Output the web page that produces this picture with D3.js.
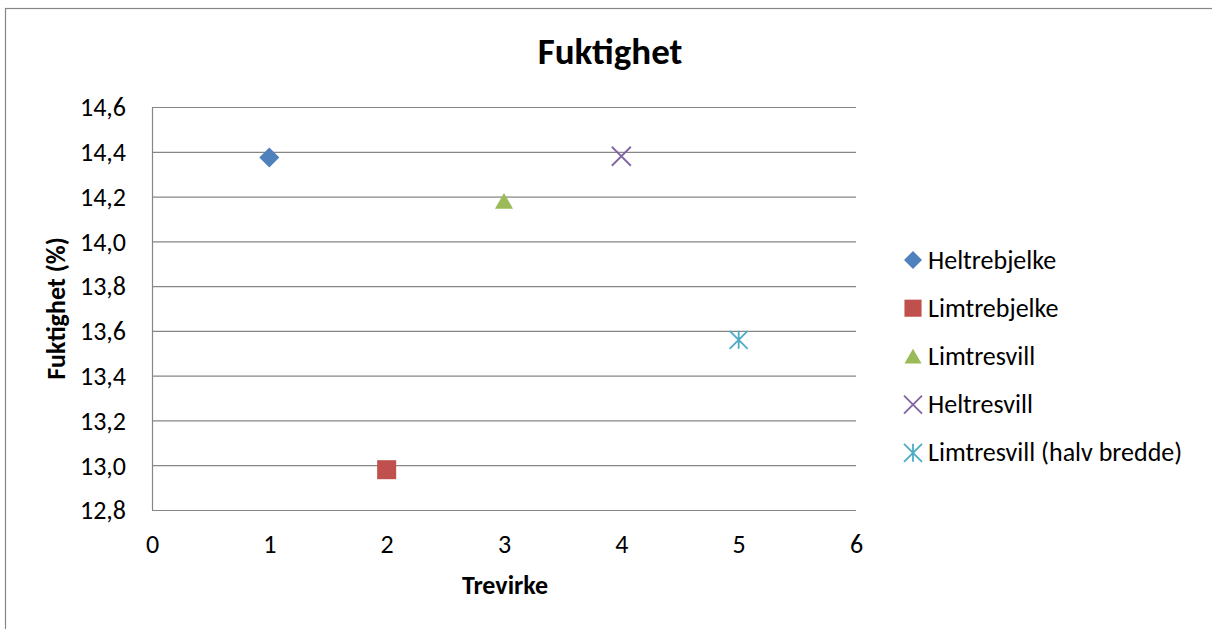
<!DOCTYPE html>
<html>
<head>
<meta charset="utf-8">
<script src="https://cdn.jsdelivr.net/npm/d3@7"></script>
<style>
  html, body { margin: 0; padding: 0; background: #fff; }
  svg text { font-family: Carlito, Calibri, Lato, sans-serif; fill: #000; }
</style>
</head>
<body>
<svg id="chart" width="1212" height="629"></svg>
<script>
// Moisture content per timber type
const seriesNames = ["Heltrebjelke", "Limtrebjelke", "Limtresvill", "Heltresvill", "Limtresvill (halv bredde)"];
const xValues = [1, 2, 3, 4, 5];
const yValues = [14.375, 12.98, 14.18, 14.38, 13.56];
const colors = ["#4F81BD", "#C0504D", "#9BBB59", "#8064A2", "#4BACC6"];
const markerKinds = ["diamond", "square", "triangle", "x", "star"];
const xTicks = [0, 1, 2, 3, 4, 5, 6];
const yTicks = [12.8, 13.0, 13.2, 13.4, 13.6, 13.8, 14.0, 14.2, 14.4, 14.6];

const svg = d3.select("#chart");
const plot = { left: 152, right: 856, top: 107, bottom: 510 };

const x = d3.scaleLinear().domain([0, 6]).range([plot.left, plot.right]);
const y = d3.scaleLinear().domain([12.8, 14.6]).range([plot.bottom, plot.top]);
const fmt = v => d3.format(".1f")(v).replace(".", ",");

// chart frame
svg.append("rect")
  .attr("x", 5.5).attr("y", 8.5)
  .attr("width", 1240).attr("height", 700)
  .attr("fill", "none").attr("stroke", "#868686").attr("stroke-width", 1.2);

// title
svg.append("text")
  .attr("x", 610).attr("y", 64)
  .attr("text-anchor", "middle")
  .style("font-size", "37px").style("font-weight", "bold")
  .text("Fuktighet");

// horizontal gridlines via y axis
const yAxis = d3.axisLeft(y).tickValues(yTicks).tickSize(-(plot.right - plot.left)).tickFormat(fmt).tickPadding(26);
const gy = svg.append("g").attr("transform", `translate(${plot.left},0)`).call(yAxis);
gy.select(".domain").attr("stroke", "#868686").attr("stroke-width", 1.2)
  .attr("d", `M0.5,${plot.top}V${plot.bottom}`);
gy.selectAll(".tick line").attr("stroke", "#868686").attr("stroke-width", 1.2);
gy.selectAll(".tick text").style("font-size", "26px").attr("dy", "0.34em");

// x axis labels
const xAxis = d3.axisBottom(x).tickValues(xTicks).tickSize(0).tickPadding(0).tickFormat(d3.format("d"));
const gx = svg.append("g").attr("transform", `translate(0,${plot.bottom})`).call(xAxis);
gx.select(".domain").remove();
gx.selectAll(".tick text").style("font-size", "26px").attr("y", 43).attr("dy", null);

// axis titles
svg.append("text")
  .attr("x", 505).attr("y", 594)
  .attr("text-anchor", "middle")
  .style("font-size", "26px").style("font-weight", "bold")
  .text("Trevirke");
svg.append("text")
  .attr("transform", `translate(65,${(plot.top + plot.bottom) / 2}) rotate(-90)`)
  .attr("text-anchor", "middle")
  .style("font-size", "26px").style("font-weight", "bold")
  .text("Fuktighet (%)");

// marker drawing
function marker(g, kind, color, s) {
  const h = s / 2;
  if (kind === "diamond") {
    g.append("path").attr("d", `M0,${-h}L${h},0L0,${h}L${-h},0Z`).attr("fill", color);
  } else if (kind === "square") {
    g.append("rect").attr("x", -h * 0.95).attr("y", -h * 0.95).attr("width", s * 0.95).attr("height", s * 0.95).attr("fill", color);
  } else if (kind === "triangle") {
    g.append("path").attr("d", `M0,${-h * 0.85}L${h * 0.95},${h * 0.8}L${-h * 0.95},${h * 0.8}Z`).attr("fill", color);
  } else if (kind === "x") {
    g.append("path").attr("d", `M${-h},${-h}L${h},${h}M${h},${-h}L${-h},${h}`)
      .attr("stroke", color).attr("stroke-width", 1.8).attr("fill", "none");
  } else if (kind === "star") {
    g.append("path").attr("d", `M${-h},${-h}L${h},${h}M${h},${-h}L${-h},${h}M0,${-h}L0,${h}`)
      .attr("stroke", color).attr("stroke-width", 1.8).attr("fill", "none");
  }
}

// data points
const sizes = { diamond: 20, square: 20, triangle: 19, x: 19, star: 18 };
xValues.forEach((xv, i) => {
  const g = svg.append("g").attr("transform", `translate(${x(xv)},${y(yValues[i])})`);
  marker(g, markerKinds[i], colors[i], sizes[markerKinds[i]]);
});

// legend
const legendTop = 260, legendStep = 48.2;
seriesNames.forEach((name, i) => {
  const g = svg.append("g").attr("transform", `translate(913,${legendTop + i * legendStep})`);
  marker(g, markerKinds[i], colors[i], 18);
  g.append("text").attr("x", 15).attr("y", 8.5)
    .style("font-size", "26px").text(name);
});
</script>
</body>
</html>
